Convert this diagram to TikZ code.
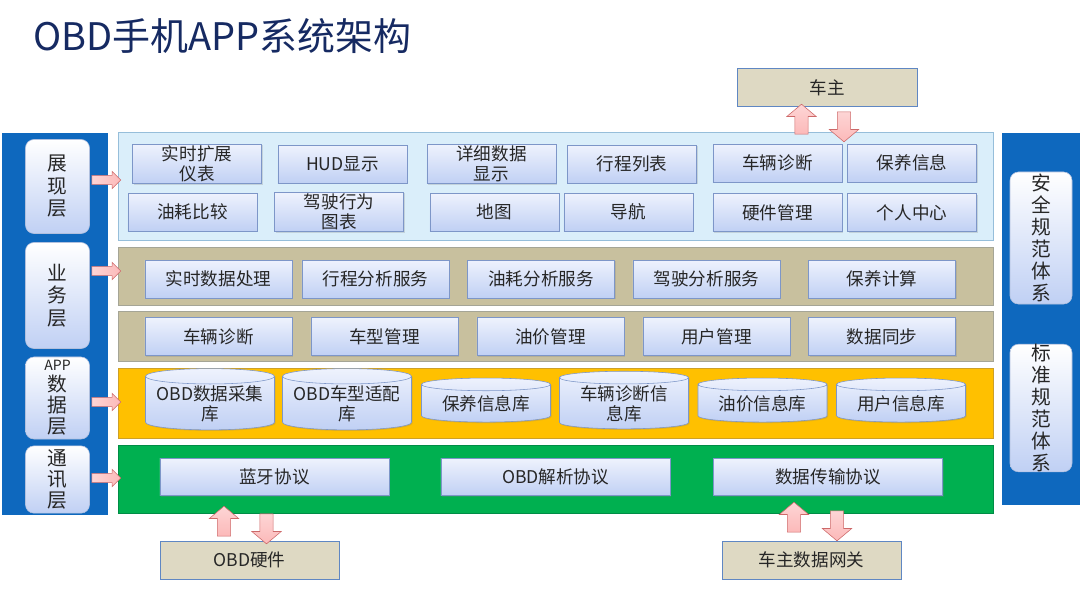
\documentclass[tikz,border=0pt]{standalone}
\usepackage{fontspec}
\setmainfont{Noto Sans CJK SC}
\usepackage{tikz}
\usetikzlibrary{shapes.geometric,shapes.arrows,shadows}
\definecolor{titlenavy}{RGB}{22,42,98}
\definecolor{panelblue}{RGB}{14,104,190}
\definecolor{showfill}{RGB}{218,238,250}
\definecolor{showline}{RGB}{150,190,218}
\definecolor{bizfill}{RGB}{200,192,158}
\definecolor{bizline}{RGB}{165,165,150}
\definecolor{datafill}{RGB}{255,192,0}
\definecolor{dataline}{RGB}{205,160,40}
\definecolor{commfill}{RGB}{0,176,80}
\definecolor{commline}{RGB}{0,140,70}
\definecolor{boxtop}{RGB}{238,242,253}
\definecolor{boxbot}{RGB}{192,208,244}
\definecolor{boxline}{RGB}{125,150,200}
\definecolor{extfill}{RGB}{222,217,195}
\definecolor{extline}{RGB}{95,135,195}
\definecolor{arrowfill}{RGB}{252,185,185}
\definecolor{arrowline}{RGB}{205,105,105}
\newcommand{\boxfont}{\fontsize{12.5}{14.5}\selectfont}

\tikzset{
  layer/.style={draw, minimum width=21.875cm, inner sep=0pt},
  funcbox/.style={draw=boxline, top color=boxtop, bottom color=boxbot, text=black!85,
    font=\boxfont, align=center, inner sep=1pt,
    drop shadow={opacity=0.25, shadow xshift=0.8pt, shadow yshift=-0.8pt}},
  showbox/.style={funcbox, minimum width=3.225cm, minimum height=0.95cm},
  bizbox/.style={funcbox, minimum width=3.675cm, minimum height=0.95cm},
  commbox/.style={funcbox, minimum width=5.725cm, minimum height=0.925cm},
  dbcyl/.style={funcbox, cylinder, shape border rotate=90, aspect=0.14,
    minimum width=3.225cm, minimum height=1.1cm},
  sidelbl/.style={draw=boxline!60, rounded corners=6pt, top color=white, bottom color=boxbot,
    text=black!85, align=center, inner sep=0pt, font=\fontsize{14}{16}\selectfont},
  extbox/.style={draw=extline, fill=extfill, text=black!85, font=\boxfont,
    minimum height=0.95cm},
  blockarrow/.style={single arrow, draw=arrowline, top color=arrowfill!60, bottom color=arrowfill,
    inner sep=0.16cm, single arrow head extend=0.2cm, minimum height=0.75cm,
    single arrow tip angle=100},
  sidearrow/.style={single arrow, draw=arrowline, left color=arrowfill!60, right color=arrowfill,
    inner sep=0.11cm, single arrow head extend=0.1cm, minimum height=0.72cm}
}

\begin{document}
\begin{tikzpicture}[x=0.025cm, y=-0.025cm]
  \useasboundingbox (0,0) rectangle (1080,608);

  % Title
  \node[anchor=base west, inner sep=0pt, text=titlenavy, font=\fontsize{27}{29}\selectfont] (title) at (33,50) {OBD手机APP系统架构};

  % Side panels
  \node[fill=panelblue, minimum width=2.65cm, minimum height=9.55cm, inner sep=0pt] (leftpanel) at (55,324) {};
  \node[fill=panelblue, minimum width=1.95cm, minimum height=9.3cm, inner sep=0pt] (rightpanel) at (1041,319) {};

  % Layers
  \node[layer, draw=showline, fill=showfill, minimum height=2.7cm] (showlayer) at (555.5,186.5) {};
  \node[layer, draw=bizline, fill=bizfill, minimum height=1.45cm] (bizlayer) at (555.5,276) {};
  \node[layer, draw=bizline, fill=bizfill, minimum height=1.25cm] (mgmtlayer) at (555.5,336.5) {};
  \node[layer, draw=dataline, fill=datafill, minimum height=1.75cm] (datalayer) at (555.5,403) {};
  \node[layer, draw=commline, fill=commfill, minimum height=1.7cm] (commlayer) at (555.5,479) {};

  % Layer labels
  \node[sidelbl, minimum width=1.6cm, minimum height=2.35cm] (lblshow) at (57.5,186.5) {展\\现\\层};
  \node[sidelbl, minimum width=1.6cm, minimum height=2.65cm] (lblbiz) at (57.5,295.5) {业\\务\\层};
  \node[sidelbl, minimum width=1.6cm, minimum height=2.05cm, font=\fontsize{14}{15}\selectfont] (lbldata) at (57.5,398) {{\fontsize{10}{11}\selectfont APP}\\数\\据\\层};
  \node[sidelbl, minimum width=1.6cm, minimum height=1.68cm, font=\fontsize{14}{15}\selectfont] (lblcomm) at (57.5,479.5) {通\\讯\\层};
  \node[sidelbl, minimum width=1.55cm, minimum height=3.3cm, font=\fontsize{14}{15.6}\selectfont] (lblsafe) at (1041,238) {安\\全\\规\\范\\体\\系};
  \node[sidelbl, minimum width=1.55cm, minimum height=3.15cm, font=\fontsize{14}{15.6}\selectfont] (lblstd) at (1041,408) {标\\准\\规\\范\\体\\系};

  % Presentation layer
  \node[showbox] (rtgauge) at (197,164) {实时扩展\\仪表};
  \node[showbox] (hud) at (342.5,164) {HUD显示};
  \node[showbox] (detail) at (491.5,164) {详细数据\\显示};
  \node[showbox] (triplist) at (632,164) {行程列表};
  \node[showbox] (diagview) at (777.5,163) {车辆诊断};
  \node[showbox] (maintview) at (912,163) {保养信息};
  \node[showbox] (fuelcmp) at (192.5,212) {油耗比较};
  \node[showbox] (drivechart) at (339,212) {驾驶行为\\图表};
  \node[showbox] (mapview) at (494.5,212) {地图};
  \node[showbox] (navi) at (628.5,212) {导航};
  \node[showbox] (hwmgmt) at (777.5,212.5) {硬件管理};
  \node[showbox] (profile) at (912,212.5) {个人中心};

  % Business layer
  \node[bizbox] (rtproc) at (218.5,279) {实时数据处理};
  \node[bizbox] (tripsvc) at (375.5,279) {行程分析服务};
  \node[bizbox] (fuelsvc) at (541,279) {油耗分析服务};
  \node[bizbox] (drivesvc) at (706.5,279) {驾驶分析服务};
  \node[bizbox] (maintcalc) at (882,279) {保养计算};
  \node[bizbox] (diagsvc) at (218.5,336.5) {车辆诊断};
  \node[bizbox] (modelmgmt) at (384.5,336.5) {车型管理};
  \node[bizbox] (pricemgmt) at (550.5,336.5) {油价管理};
  \node[bizbox] (usermgmt) at (716.5,336.5) {用户管理};
  \node[bizbox] (datasync) at (882,336.5) {数据同步};

  % Data layer
  \node[dbcyl] (obddb) at (210,404) {OBD数据采集\\库};
  \node[dbcyl] (modeldb) at (347,404) {OBD车型适配\\库};
  \node[dbcyl] (maintdb) at (486,404) {保养信息库};
  \node[dbcyl] (diagdb) at (624,404) {车辆诊断信\\息库};
  \node[dbcyl] (pricedb) at (762.5,404) {油价信息库};
  \node[dbcyl] (userdb) at (901,404) {用户信息库};

  % Communication layer
  \node[commbox] (bt) at (274.5,477) {蓝牙协议};
  \node[commbox] (obdproto) at (555.5,477) {OBD解析协议};
  \node[commbox] (xferproto) at (828,477) {数据传输协议};

  % External parties
  \node[extbox, minimum width=4.5cm] (owner) at (827,87.5) {车主};
  \node[extbox, minimum width=4.475cm] (obdhw) at (249.5,560) {OBD硬件};
  \node[extbox, minimum width=4.475cm] (gateway) at (811.5,560) {车主数据网关};

  % Arrows from layer labels
  \node[sidearrow] (toshow) at (104,180) {};
  \node[sidearrow] (tobiz) at (104,271) {};
  \node[sidearrow] (todata) at (104,402) {};
  \node[sidearrow] (tocomm) at (104,478) {};

  % Arrows to and from the outside
  \node[blockarrow, shape border rotate=90] (upowner) at (801.5,122) {};
  \node[blockarrow, shape border rotate=270] (downowner) at (844,124) {};
  \node[blockarrow, shape border rotate=90] (uphw) at (224,524) {};
  \node[blockarrow, shape border rotate=270] (downhw) at (266.5,526) {};
  \node[blockarrow, shape border rotate=90] (upgw) at (794,520) {};
  \node[blockarrow, shape border rotate=270] (downgw) at (837,523) {};
\end{tikzpicture}
\end{document}
